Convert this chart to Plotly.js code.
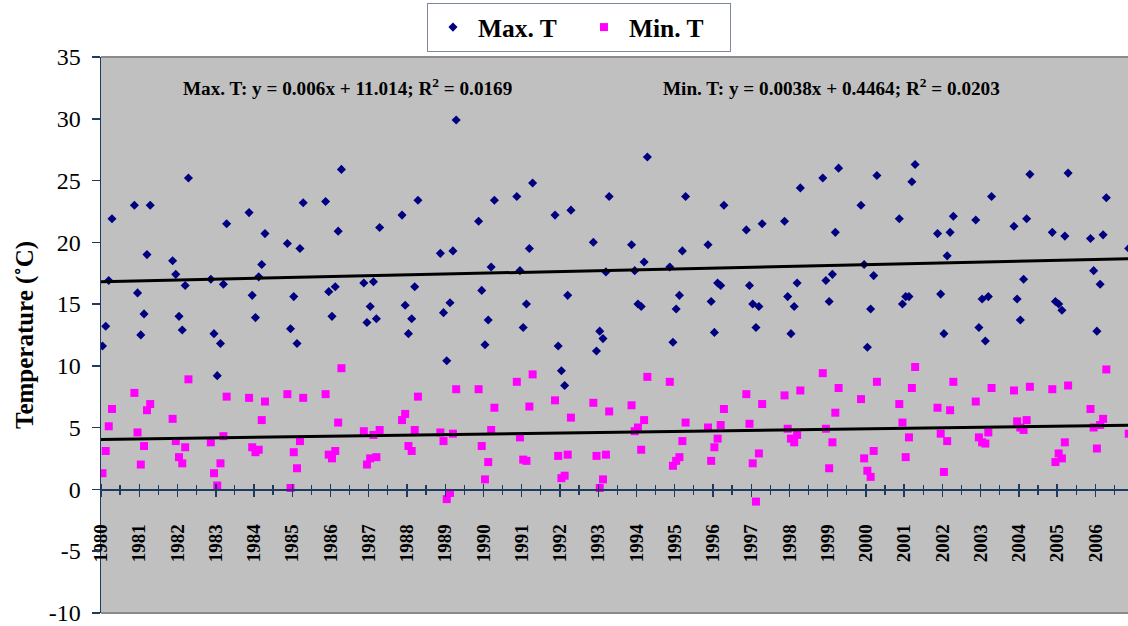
<!DOCTYPE html>
<html>
<head>
<meta charset="utf-8">
<script src="https://cdn.plot.ly/plotly-3.0.1.min.js"></script>
<style>
  html, body { margin: 0; padding: 0; background: #ffffff; }
  #chart { width: 1128px; height: 626px; }
</style>
</head>
<body>
<div id="chart"></div>
<script>
// Monthly observations (winter half-years: Nov-Apr)
const dates = [
  "1980-01-15","1980-02-15","1980-03-15","1980-04-15",
  "1980-11-15","1980-12-15","1981-01-15","1981-02-15","1981-03-15","1981-04-15",
  "1981-11-15","1981-12-15","1982-01-15","1982-02-15","1982-03-15","1982-04-15",
  "1982-11-15","1982-12-15","1983-01-15","1983-02-15","1983-03-15","1983-04-15",
  "1983-11-15","1983-12-15","1984-01-15","1984-02-15","1984-03-15","1984-04-15",
  "1984-11-15","1984-12-15","1985-01-15","1985-02-15","1985-03-15","1985-04-15",
  "1985-11-15","1985-12-15","1986-01-15","1986-02-15","1986-03-15","1986-04-15",
  "1986-11-15","1986-12-15","1987-01-15","1987-02-15","1987-03-15","1987-04-15",
  "1987-11-15","1987-12-15","1988-01-15","1988-02-15","1988-03-15","1988-04-15",
  "1988-11-15","1988-12-15","1989-01-15","1989-02-15","1989-03-15","1989-04-15",
  "1989-11-15","1989-12-15","1990-01-15","1990-02-15","1990-03-15","1990-04-15",
  "1990-11-15","1990-12-15","1991-01-15","1991-02-15","1991-03-15","1991-04-15",
  "1991-11-15","1991-12-15","1992-01-15","1992-02-15","1992-03-15","1992-04-15",
  "1992-11-15","1992-12-15","1993-01-15","1993-02-15","1993-03-15","1993-04-15",
  "1993-11-15","1993-12-15","1994-01-15","1994-02-15","1994-03-15","1994-04-15",
  "1994-11-15","1994-12-15","1995-01-15","1995-02-15","1995-03-15","1995-04-15",
  "1995-11-15","1995-12-15","1996-01-15","1996-02-15","1996-03-15","1996-04-15",
  "1996-11-15","1996-12-15","1997-01-15","1997-02-15","1997-03-15","1997-04-15",
  "1997-11-15","1997-12-15","1998-01-15","1998-02-15","1998-03-15","1998-04-15",
  "1998-11-15","1998-12-15","1999-01-15","1999-02-15","1999-03-15","1999-04-15",
  "1999-11-15","1999-12-15","2000-01-15","2000-02-15","2000-03-15","2000-04-15",
  "2000-11-15","2000-12-15","2001-01-15","2001-02-15","2001-03-15","2001-04-15",
  "2001-11-15","2001-12-15","2002-01-15","2002-02-15","2002-03-15","2002-04-15",
  "2002-11-15","2002-12-15","2003-01-15","2003-02-15","2003-03-15","2003-04-15",
  "2003-11-15","2003-12-15","2004-01-15","2004-02-15","2004-03-15","2004-04-15",
  "2004-11-15","2004-12-15","2005-01-15","2005-02-15","2005-03-15","2005-04-15",
  "2005-11-15","2005-12-15","2006-01-15","2006-02-15","2006-03-15","2006-04-15",
  "2006-11-15"
];

const maxT = [
  11.6, 13.2, 16.9, 21.9,
  23.0, 15.9, 12.5, 14.2, 19.0, 23.0,
  18.5, 17.4, 14.0, 12.9, 16.5, 25.2,
  17.0, 12.6, 9.2, 11.8, 16.6, 21.5,
  22.4, 15.7, 13.9, 17.2, 18.2, 20.7,
  19.9, 13.0, 15.6, 11.8, 19.5, 23.2,
  23.3, 16.0, 14.0, 16.4, 20.9, 25.9,
  16.7, 13.5, 14.8, 16.8, 13.8, 21.2,
  22.2, 14.9, 12.6, 13.8, 16.4, 23.4,
  19.1, 14.3, 10.4, 15.1, 19.3, 29.9,
  21.7, 16.1, 11.7, 13.7, 18.0, 23.4,
  23.7, 17.7, 13.1, 15.0, 19.5, 24.8,
  22.2, 11.6, 9.6, 8.4, 15.7, 22.6,
  20.0, 11.2, 12.8, 12.2, 17.6, 23.7,
  19.8, 17.7, 15.0, 14.8, 18.4, 26.9,
  18.0, 11.9, 14.6, 15.7, 19.3, 23.7,
  19.8, 15.2, 12.7, 16.7, 16.5, 23.0,
  21.0, 16.5, 15.0, 13.1, 14.8, 21.5,
  21.7, 15.6, 12.6, 14.8, 16.7, 24.4,
  25.2, 16.9, 15.2, 17.4, 20.8, 26.0,
  23.0, 18.2, 11.5, 14.6, 17.3, 25.4,
  21.9, 15.0, 15.6, 15.6, 24.9, 26.3,
  20.7, 15.8, 12.6, 18.9, 20.8, 22.1,
  21.8, 13.1, 15.4, 12.0, 15.6, 23.7,
  21.3, 15.4, 13.7, 17.0, 21.9, 25.5,
  20.8, 15.2, 15.0, 14.5, 20.5, 25.6,
  20.3, 17.7, 12.8, 16.6, 20.6, 23.6,
  19.5
];

const minT = [
  1.3, 3.1, 5.1, 6.5,
  7.8, 4.6, 2.0, 3.5, 6.4, 6.9,
  5.7, 3.9, 2.6, 2.1, 3.4, 8.9,
  3.8, 1.3, 0.3, 2.1, 4.3, 7.5,
  7.4, 3.4, 3.0, 3.2, 5.6, 7.1,
  7.7, 0.1, 3.0, 1.7, 3.9, 7.4,
  7.7, 2.8, 2.5, 3.1, 5.4, 9.8,
  4.7, 2.0, 2.5, 4.4, 2.6, 4.8,
  5.6, 6.1, 3.5, 3.1, 4.8, 7.5,
  4.6, 3.9, -0.8, -0.3, 4.5, 8.1,
  8.1, 3.5, 0.8, 2.2, 4.8, 6.6,
  8.7, 4.2, 2.4, 2.3, 6.7, 9.3,
  7.2, 2.7, 0.9, 1.1, 2.8, 5.8,
  7.0, 2.7, 0.1, 0.8, 2.8, 6.3,
  6.8, 4.7, 5.0, 3.2, 5.6, 9.1,
  8.7, 1.9, 2.3, 2.6, 3.9, 5.4,
  5.0, 2.3, 3.4, 4.1, 5.2, 6.5,
  7.7, 5.3, 2.1, -1.0, 2.9, 6.9,
  7.6, 4.9, 4.1, 3.8, 4.4, 8.0,
  9.4, 4.9, 1.7, 3.8, 6.2, 8.2,
  7.3, 2.5, 1.5, 1.0, 3.1, 8.7,
  6.9, 5.4, 2.6, 4.2, 8.2, 9.9,
  6.6, 4.5, 1.4, 3.9, 6.4, 8.7,
  7.1, 4.2, 3.8, 3.7, 4.6, 8.2,
  8.0, 5.5, 5.0, 4.8, 5.6, 8.3,
  8.1, 2.2, 2.9, 2.5, 3.8, 8.4,
  6.5, 5.0, 3.3, 5.2, 5.7, 9.7,
  4.5
];

// Linear trend lines (end points as drawn)
const trendDates = ["1980-01-01", "2006-11-08"];
const maxTrend = [16.8, 18.66];
const minTrend = [4.03, 5.18];

const yTickVals = [35, 30, 25, 20, 15, 10, 5, 0, -5, -10];
const yTickText = ["35", "30", "25", "20", "15", "10", "5", "0", "-5", "-10"];

const seriesNames = ["Max. T", "Min. T"];
const equationLabels = [
  "Max. T: y = 0.006x + 11.014; R<sup>2</sup> = 0.0169",
  "Min. T: y = 0.0038x + 0.4464; R<sup>2</sup> = 0.0203"
];
const yTitle = "Temperature (\u02DAC)";

const FONT = "'Liberation Serif', 'Times New Roman', serif";
const AXIS = "#1f3a5f";

const traces = [
  {
    x: dates, y: maxT, type: "scatter", mode: "markers", name: seriesNames[0],
    marker: { symbol: "diamond", size: 7, color: "#000080" },
    hoverinfo: "x+y"
  },
  {
    x: dates, y: minT, type: "scatter", mode: "markers", name: seriesNames[1],
    marker: { symbol: "square", size: 8, color: "#ff00ff" },
    hoverinfo: "x+y"
  },
  {
    x: trendDates, y: maxTrend, type: "scatter", mode: "lines", showlegend: false,
    line: { color: "#000000", width: 3 }, hoverinfo: "skip"
  },
  {
    x: trendDates, y: minTrend, type: "scatter", mode: "lines", showlegend: false,
    line: { color: "#000000", width: 3 }, hoverinfo: "skip"
  },
  {
    x: [], y: [], xaxis: "x2", type: "scatter", mode: "markers",
    showlegend: false, hoverinfo: "skip"
  }
];

const yRange = [-10.02, 35];
const zeroPos = (0 - yRange[0]) / (yRange[1] - yRange[0]);

const layout = {
  width: 1128, height: 626,
  margin: { l: 101, r: 0, t: 57, b: 13, pad: 0 },
  paper_bgcolor: "#ffffff",
  plot_bgcolor: "#c0c0c0",
  font: { family: FONT, color: "#000000" },
  showlegend: true,
  legend: {
    orientation: "h",
    x: 0.3174, xanchor: "left",
    y: 1.0971, yanchor: "top",
    bgcolor: "#ffffff",
    bordercolor: "#7f8a9e", borderwidth: 1,
    itemwidth: 40,
    entrywidth: 96,
    font: { family: FONT, size: 25.5, weight: "bold", color: "#000000" },
    itemclick: false
  },
  xaxis: {
    type: "date",
    range: [trendDates[0], trendDates[1]],
    anchor: "free", position: zeroPos,
    tick0: "1980-01-01", dtick: "M12", tickformat: "%Y",
    tickangle: -90,
    ticks: "outside", ticklen: 6, tickwidth: 1.5, tickcolor: AXIS,
    minor: { dtick: "M6", ticks: "outside", ticklen: 4, tickwidth: 1.2, tickcolor: AXIS },
    ticklabelstandoff: 20,
    ticklabeloverflow: "allow",
    tickfont: { family: FONT, size: 19, weight: "bold", color: "#000000" },
    showline: true, linecolor: AXIS, linewidth: 1.5,
    showgrid: false, zeroline: false
  },
  xaxis2: {
    type: "date",
    overlaying: "x", matches: "x",
    anchor: "free", position: zeroPos, side: "top",
    tick0: "1980-01-01", dtick: "M12",
    ticks: "outside", ticklen: 5, tickwidth: 1.5, tickcolor: AXIS,
    minor: { dtick: "M6", ticks: "outside", ticklen: 4, tickwidth: 1.2, tickcolor: AXIS },
    showticklabels: false,
    showline: false, showgrid: false, zeroline: false
  },
  yaxis: {
    range: yRange,
    tickmode: "array", tickvals: yTickVals, ticktext: yTickText,
    ticks: "outside", ticklen: 8, tickwidth: 1.5, tickcolor: AXIS,
    tickfont: { family: FONT, size: 24, color: "#000000" },
    ticklabelstandoff: 6,
    ticklabeloverflow: "allow",
    showline: true, linecolor: AXIS, linewidth: 1.5,
    showgrid: false, zeroline: false
  },
  shapes: [
    { type: "line", xref: "paper", yref: "paper", x0: 0, x1: 1, y0: 1, y1: 1,
      line: { color: "#8a8a8a", width: 2 }, layer: "above" },
    { type: "line", xref: "paper", yref: "paper", x0: 0, x1: 1, y0: 0, y1: 0,
      line: { color: "#8a8a8a", width: 2 }, layer: "above" }
  ],
  annotations: [
    { text: equationLabels[0], xref: "paper", yref: "paper",
      x: 0.0779, xanchor: "left", y: 0.946, yanchor: "middle", showarrow: false,
      font: { family: FONT, size: 19.2, weight: "bold", color: "#000000" } },
    { text: equationLabels[1], xref: "paper", yref: "paper",
      x: 0.5453, xanchor: "left", y: 0.946, yanchor: "middle", showarrow: false,
      font: { family: FONT, size: 19.2, weight: "bold", color: "#000000" } },
    { text: yTitle, xref: "paper", yref: "paper",
      x: -0.074, xanchor: "center", y: 0.5, yanchor: "middle", textangle: -90,
      showarrow: false,
      font: { family: FONT, size: 25, weight: "bold", color: "#000000" } }
  ]
};

Plotly.newPlot("chart", traces, layout, { staticPlot: true, displayModeBar: false });
</script>
</body>
</html>
